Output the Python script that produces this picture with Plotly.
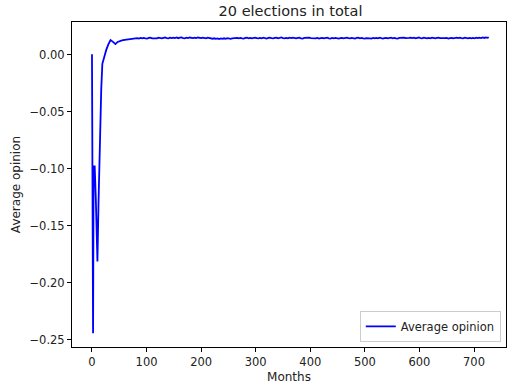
import plotly.graph_objects as go

title = "20 elections in total"
series_name = "Average opinion"

early_months = [0, 2, 3, 5, 7, 10, 12, 15, 17, 19, 22, 26, 30, 34, 38, 43, 47, 50, 55, 60, 64, 68, 72, 76]
early_values = [0.0005, -0.2445, -0.098, -0.098, -0.126, -0.1815, -0.13, -0.06, -0.03, -0.008,
                -0.002, 0.004, 0.009, 0.0128, 0.0115, 0.0093, 0.0112, 0.0118, 0.0125, 0.0130,
                0.0133, 0.0131, 0.0136, 0.0138]

late_months = list(range(80, 726, 3)) + [727]
late_values = [
    0.0141, 0.0145, 0.0142, 0.0147, 0.0143, 0.0148, 0.0144, 0.0142, 0.0147, 0.0149, 0.0144, 0.0143,
    0.0148, 0.0144, 0.0150, 0.0145, 0.0143, 0.0148, 0.0151, 0.0146, 0.0144, 0.0149, 0.0145, 0.0150,
    0.0146, 0.0151, 0.0145, 0.0149, 0.0152, 0.0146, 0.0144, 0.0150, 0.0146, 0.0151, 0.0147, 0.0145,
    0.0150, 0.0146, 0.0151, 0.0147, 0.0145, 0.0150, 0.0146, 0.0144, 0.0149, 0.0145, 0.0142, 0.0140,
    0.0144, 0.0139, 0.0143, 0.0138, 0.0143, 0.0139, 0.0144, 0.0140, 0.0145, 0.0141, 0.0139, 0.0144,
    0.0146, 0.0142, 0.0147, 0.0143, 0.0148, 0.0144, 0.0142, 0.0147, 0.0149, 0.0144, 0.0148, 0.0143,
    0.0147, 0.0150, 0.0145, 0.0143, 0.0148, 0.0144, 0.0149, 0.0145, 0.0142, 0.0147, 0.0150, 0.0146,
    0.0143, 0.0147, 0.0149, 0.0144, 0.0148, 0.0151, 0.0145, 0.0143, 0.0148, 0.0144, 0.0149, 0.0145,
    0.0150, 0.0146, 0.0143, 0.0147, 0.0149, 0.0144, 0.0142, 0.0147, 0.0149, 0.0145, 0.0150, 0.0146,
    0.0144, 0.0148, 0.0143, 0.0147, 0.0142, 0.0146, 0.0148, 0.0143, 0.0147, 0.0149, 0.0144, 0.0142,
    0.0147, 0.0143, 0.0148, 0.0144, 0.0141, 0.0146, 0.0148, 0.0143, 0.0147, 0.0150, 0.0145, 0.0143,
    0.0148, 0.0144, 0.0142, 0.0147, 0.0149, 0.0144, 0.0148, 0.0143, 0.0141, 0.0146, 0.0148, 0.0144,
    0.0142, 0.0147, 0.0143, 0.0148, 0.0144, 0.0149, 0.0145, 0.0142, 0.0146, 0.0148, 0.0143, 0.0147,
    0.0149, 0.0144, 0.0148, 0.0144, 0.0142, 0.0147, 0.0149, 0.0145, 0.0150, 0.0146, 0.0144, 0.0148,
    0.0150, 0.0145, 0.0149, 0.0144, 0.0148, 0.0151, 0.0146, 0.0144, 0.0149, 0.0145, 0.0143, 0.0148,
    0.0144, 0.0149, 0.0145, 0.0143, 0.0147, 0.0150, 0.0146, 0.0144, 0.0141, 0.0145, 0.0147, 0.0142,
    0.0146, 0.0148, 0.0143, 0.0147, 0.0149, 0.0145, 0.0150, 0.0146, 0.0144, 0.0149, 0.0145, 0.0143,
    0.0147, 0.0143, 0.0148, 0.0144, 0.0149, 0.0145, 0.0150, 0.0146, 0.0151, 0.0147, 0.0152, 0.0148,
    0.0153,
]

x_ticks = [0, 100, 200, 300, 400, 500, 600, 700]
y_ticks = [0.00, -0.05, -0.10, -0.15, -0.20, -0.25]

months = early_months + late_months
values = early_values + late_values

font = "DejaVu Sans, Verdana, sans-serif"

fig = go.Figure()
fig.add_trace(go.Scatter(
    x=months, y=values, mode="lines", name=series_name,
    line=dict(color="#0000ff", width=1.8),
    showlegend=True,
))

axis_common = dict(
    showgrid=False, zeroline=False, showline=True, linecolor="black", linewidth=1,
    mirror=True, ticks="outside", ticklen=4, tickcolor="black", tickwidth=1,
    tickfont=dict(family=font, size=11.5, color="#222222"), automargin=False,
)

fig.update_layout(
    width=507, height=390,
    margin=dict(l=72, r=1, t=22, b=43, autoexpand=False),
    paper_bgcolor="white", plot_bgcolor="white",
    title=dict(text=title, x=0.573, xanchor="center", xref="container",
               y=0.972, yanchor="middle", yref="container", automargin=False,
               font=dict(family=font, size=14.5, color="#222222")),
    xaxis=dict(range=[-36.6, 758.6], tickvals=x_ticks,
               title=dict(text="Months", font=dict(family=font, size=12, color="#222222"), standoff=4),
               **axis_common),
    yaxis=dict(range=[-0.2565, 0.0287], tickvals=y_ticks, tickformat=".2f",
               title=dict(text="Average opinion", font=dict(family=font, size=12, color="#222222"), standoff=6),
               **axis_common),
    legend=dict(x=0.988, y=0.016, xanchor="right", yanchor="bottom",
                bgcolor="rgba(255,255,255,0.8)", bordercolor="#cccccc", borderwidth=1,
                font=dict(family=font, size=11.5, color="#222222")),
)

fig.write_html("out.html", config={"displayModeBar": False},
               post_script="document.body.style.margin='0';document.body.style.overflow='hidden';")
